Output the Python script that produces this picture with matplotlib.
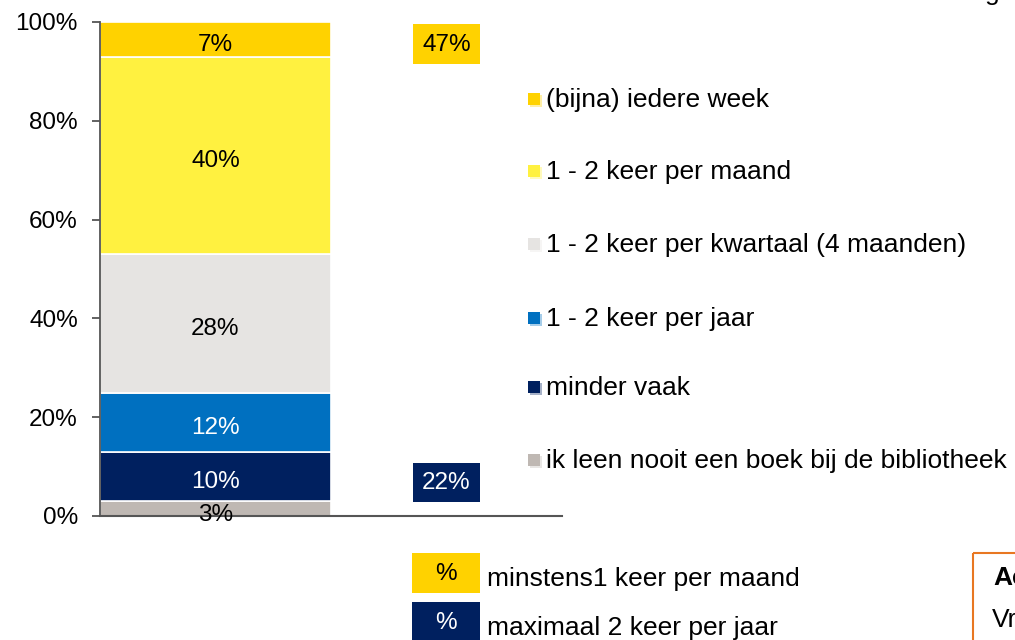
import matplotlib.pyplot as plt
from matplotlib.patches import Rectangle

plt.rcParams['font.family'] = ['Liberation Sans', 'DejaVu Sans']

# categories from bottom to top of the stacked bar
labels = ["ik leen nooit een boek bij de bibliotheek", "minder vaak", "1 - 2 keer per jaar",
          "1 - 2 keer per kwartaal (4 maanden)", "1 - 2 keer per maand", "(bijna) iedere week"]
values = [3, 10, 12, 28, 40, 7]
colors = ["#BFB8B3", "#00205F", "#0070C0", "#E6E4E2", "#FFF140", "#FFD200"]
text_colors = ["black", "white", "white", "black", "black", "black"]

summary_labels = ["minstens1 keer per maand", "maximaal 2 keer per jaar"]
summary_colors = ["#FFD200", "#00205F"]
summary_values = [values[4] + values[5], values[1] + values[2]]

FS = 17.5
FL = 19

fig = plt.figure(figsize=(10.15, 6.4), dpi=100)
ax = fig.add_axes([100 / 1015, 124 / 640, 462 / 1015, 494 / 640])

bottom = 0
for v, c, tc in zip(values, colors, text_colors):
    ax.bar(0, v, bottom=bottom, width=1.0, color=c, edgecolor="white", linewidth=1.2)
    ax.text(0, bottom + v / 2 - 1.2, f"{v}%", ha="center", va="center", fontsize=FS, color=tc)
    bottom += v

# summary boxes next to the bar
ax.bar(1, 8, bottom=91.5, width=0.29, color=summary_colors[0])
ax.text(1, 95.3, f"{summary_values[0]}%", ha="center", va="center", fontsize=FS, color="black")
ax.bar(1, 8, bottom=2.8, width=0.29, color=summary_colors[1])
ax.text(1, 6.6, f"{summary_values[1]}%", ha="center", va="center", fontsize=FS, color="white")

ax.set_xlim(-0.5, 1.5)
ax.set_ylim(0, 100)
ax.set_yticks(range(0, 101, 20))
ax.set_yticklabels([f"{t}%" for t in range(0, 101, 20)], fontsize=FS)
ax.set_xticks([])
ax.tick_params(axis="y", length=6, width=1.3, color="#555555", pad=10)
for s in ["top", "right"]:
    ax.spines[s].set_visible(False)
ax.spines["left"].set_color("#555555")
ax.spines["left"].set_linewidth(1.3)
ax.spines["bottom"].set_color("#555555")
ax.spines["bottom"].set_linewidth(1.5)

# overlay in pixel coordinates for the legend and notes
ov = fig.add_axes([0, 0, 1, 1], zorder=5)
ov.set_xlim(0, 1015)
ov.set_ylim(640, 0)
ov.axis("off")
ov.patch.set_alpha(0)

leg_y = [99, 171, 244, 318, 387, 460]
for y, lab, c in zip(leg_y, labels[::-1], colors[::-1]):
    ov.add_patch(Rectangle((530, y - 4), 12, 12, color=c, alpha=0.35, lw=0))
    ov.add_patch(Rectangle((528, y - 6), 12, 12, color=c, lw=0))
    ov.text(546, y + 1, lab, ha="left", va="center", fontsize=FL, color="black")

box_y = [573, 622]
for y, lab, c, tc in zip(box_y, summary_labels, summary_colors, ["black", "white"]):
    ov.add_patch(Rectangle((412, y - 20), 68, 40, color=c, lw=0))
    ov.text(446, y + 1, "%", ha="center", va="center", fontsize=FS, color=tc)
    ov.text(487, y + 6, lab, ha="left", va="center", fontsize=FL, color="black")

# cut-off note box at bottom right
ov.add_patch(Rectangle((973, 553), 80, 120, fill=False, edgecolor="#E87722", lw=1.5, clip_on=False))
ov.text(993, 578, "Ac", ha="left", va="center", fontsize=FL, fontweight="bold")
ov.text(992, 620, "Vr", ha="left", va="center", fontsize=FL)
fig.text(1000 / 1015, 1.0, "g", ha="right", va="baseline", fontsize=FL)

fig.savefig("out.png", dpi=100)
